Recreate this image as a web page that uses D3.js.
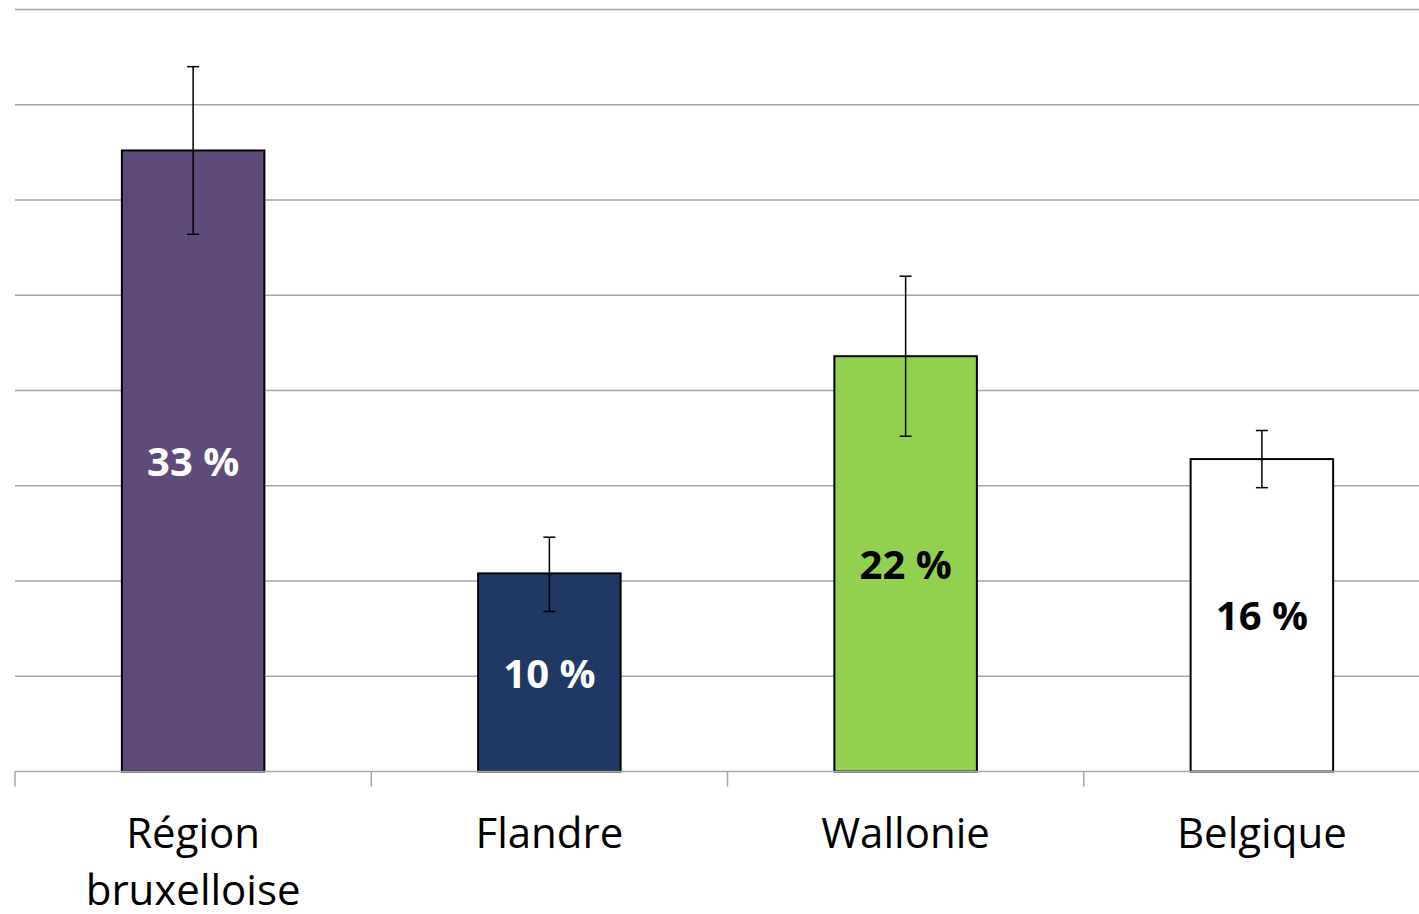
<!DOCTYPE html>
<html><head><meta charset="utf-8">
<script src="https://cdn.jsdelivr.net/npm/d3@7"></script>
<style>html,body{margin:0;padding:0;background:#fff;}svg{display:block;}</style>
</head><body>
<svg id="chart" width="1419" height="914"></svg>
<script>
const categories = [["Région","bruxelloise"],["Flandre"],["Wallonie"],["Belgique"]];
const values = [32.6, 10.4, 21.8, 16.4];
const valueLabels = ["33 %","10 %","22 %","16 %"];
const errLow = [28.2, 8.4, 17.6, 14.9];
const errHigh = [37.0, 12.3, 26.0, 17.9];
const colors = ["#5F4B7A","#203864","#92D050","#FFFFFF"];
const labelColors = ["#FFFFFF","#FFFFFF","#000000","#000000"];
const yTicks = [0,5,10,15,20,25,30,35,40];

const svg = d3.select("#chart");
const idx = d3.range(categories.length);
const x = d3.scaleBand().domain(idx).range([15, 1440]).paddingInner(0.6).paddingOuter(0.3);
const y = d3.scaleLinear().domain([0,40]).range([771.5, 9.5]);

// gridlines
svg.append("g").selectAll("line").data(yTicks.filter(d=>d>0)).join("line")
  .attr("x1",15).attr("x2",1419)
  .attr("y1",d=>y(d)).attr("y2",d=>y(d))
  .attr("stroke","#A6A6A6").attr("stroke-width",1.3);

// bars
svg.append("g").selectAll("rect").data(idx).join("rect")
  .attr("x",i=>x(i)).attr("width",x.bandwidth())
  .attr("y",i=>y(values[i])).attr("height",i=>y(0)-y(values[i]))
  .attr("fill",i=>colors[i]).attr("stroke","#000").attr("stroke-width",2);

// x axis
const step = x.step();
const axisG = svg.append("g");
axisG.append("line").attr("x1",15).attr("x2",1419).attr("y1",y(0)).attr("y2",y(0))
  .attr("stroke","#A6A6A6").attr("stroke-width",1.5);
const tickXs = d3.range(categories.length+1).map(k=>15+k*step);
axisG.selectAll("line.tick").data(tickXs).join("line").attr("class","tick")
  .attr("x1",d=>d).attr("x2",d=>d).attr("y1",y(0)).attr("y2",y(0)+15)
  .attr("stroke","#A6A6A6").attr("stroke-width",1.5);

// error bars
const eg = svg.append("g").attr("stroke","#000").attr("stroke-width",1.5);
idx.forEach(i=>{
  const cx = x(i)+x.bandwidth()/2;
  eg.append("line").attr("x1",cx).attr("x2",cx).attr("y1",y(errLow[i])).attr("y2",y(errHigh[i]));
  eg.append("line").attr("x1",cx-6).attr("x2",cx+6).attr("y1",y(errLow[i])).attr("y2",y(errLow[i]));
  eg.append("line").attr("x1",cx-6).attr("x2",cx+6).attr("y1",y(errHigh[i])).attr("y2",y(errHigh[i]));
});

// value labels
svg.append("g").selectAll("text").data(idx).join("text")
  .attr("x",i=>x(i)+x.bandwidth()/2)
  .attr("y",i=>(y(values[i])+y(0))/2)
  .attr("dy","0.38em")
  .attr("text-anchor","middle")
  .attr("font-family","'Open Sans', sans-serif").attr("font-weight","bold").attr("font-size",40)
  .attr("fill",i=>labelColors[i])
  .text(i=>valueLabels[i]);

// category labels
const cg = svg.append("g").attr("font-family","'Open Sans', sans-serif").attr("font-size",42).attr("fill","#000");
idx.forEach(i=>{
  const t = cg.append("text").attr("x",x(i)+x.bandwidth()/2).attr("y",848).attr("text-anchor","middle");
  categories[i].forEach((line,k)=>{
    t.append("tspan").attr("x",x(i)+x.bandwidth()/2).attr("dy",k===0?0:57).text(line);
  });
});
</script>
</body></html>
